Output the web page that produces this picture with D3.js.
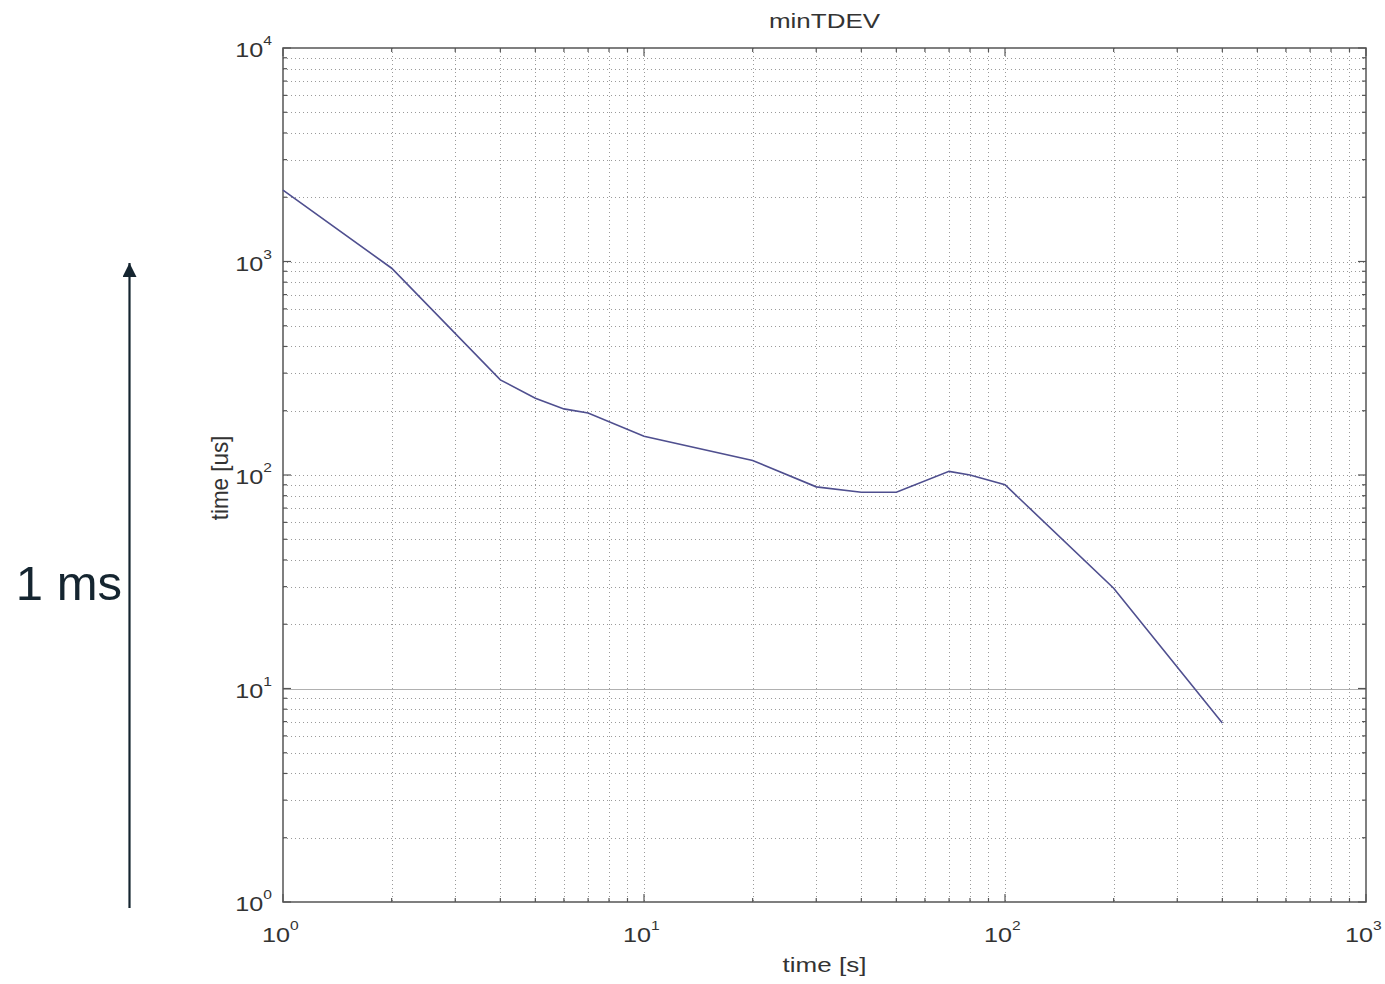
<!DOCTYPE html>
<html>
<head>
<meta charset="utf-8">
<script src="https://cdn.jsdelivr.net/npm/d3@7"></script>
<style>
  body { margin: 0; background: #fff; }
  svg { display: block; }
</style>
</head>
<body>
<div id="chart"></div>
<script>
// tau values [s] and minTDEV values [us]
const tau = [1, 2, 4, 5, 6, 7, 10, 20, 30, 40, 50, 70, 80, 100, 200, 400];
const tdev = [2160, 930, 279, 229, 204, 195, 152, 117, 88, 83, 83, 104, 100, 90, 29.5, 6.9];
const xTickExp = [0, 1, 2, 3];
const yTickExp = [0, 1, 2, 3, 4];

const width = 1385, height = 984;
const margin = { left: 283, right: 19, top: 48, bottom: 82 };

const svg = d3.select("#chart").append("svg")
  .attr("width", width)
  .attr("height", height)
  .style("font-family", "Liberation Sans, Arial, sans-serif");

const x = d3.scaleLog().domain([1, 1000]).range([margin.left, width - margin.right]);
const y = d3.scaleLog().domain([1, 10000]).range([height - margin.bottom, margin.top]);

const x0 = x.range()[0], x1 = x.range()[1];
const y0 = y.range()[0], y1 = y.range()[1];

// all ticks incl. minor ones (1..9 per decade)
const xTicks = x.ticks();
const yTicks = y.ticks();

// dotted grid
const grid = svg.append("g").attr("stroke", "#9a9a9a").attr("stroke-width", 1)
  .attr("stroke-dasharray", "1,3");
grid.selectAll("line.vx").data(xTicks.filter(d => d > 1 && d < 1000)).join("line")
  .attr("x1", d => Math.round(x(d)) + 0.5).attr("x2", d => Math.round(x(d)) + 0.5)
  .attr("y1", y1).attr("y2", y0);
grid.selectAll("line.hy").data(yTicks.filter(d => d > 1 && d < 10000)).join("line")
  .attr("y1", d => Math.round(y(d)) + 0.5).attr("y2", d => Math.round(y(d)) + 0.5)
  .attr("x1", x0).attr("x2", x1);

// the 10^1 gridline shows up solid in the source image
svg.append("line")
  .attr("x1", x0).attr("x2", x1)
  .attr("y1", Math.round(y(10)) + 0.5).attr("y2", Math.round(y(10)) + 0.5)
  .attr("stroke", "#b0b0b0").attr("stroke-width", 1);

// axes with inward ticks on all four sides
const tickLen = d => (Math.log10(d) % 1 === 0 ? 8 : 4);
const axisCol = "#555";
const ax = svg.append("g").attr("stroke", axisCol).attr("stroke-width", 1.2);
ax.selectAll("line.bt").data(xTicks).join("line")
  .attr("x1", d => x(d)).attr("x2", d => x(d)).attr("y1", y0).attr("y2", d => y0 - tickLen(d));
ax.selectAll("line.tt").data(xTicks).join("line")
  .attr("x1", d => x(d)).attr("x2", d => x(d)).attr("y1", y1).attr("y2", d => y1 + tickLen(d));
ax.selectAll("line.lt").data(yTicks).join("line")
  .attr("y1", d => y(d)).attr("y2", d => y(d)).attr("x1", x0).attr("x2", d => x0 + tickLen(d));
ax.selectAll("line.rt").data(yTicks).join("line")
  .attr("y1", d => y(d)).attr("y2", d => y(d)).attr("x1", x1).attr("x2", d => x1 - tickLen(d));
svg.append("rect")
  .attr("x", x0).attr("y", y1).attr("width", x1 - x0).attr("height", y0 - y1)
  .attr("fill", "none").attr("stroke", axisCol).attr("stroke-width", 1.5);

// the source picture is stretched sideways, so texts get a horizontal scale
const labCol = "#333";
const stretch = 1.2;
const power = (sel, d) => {
  sel.append("tspan").text("10");
  sel.append("tspan").attr("dy", -12).style("font-size", "13px").text(d);
};

svg.append("g").selectAll("text").data(xTickExp).join("text")
  .attr("transform", d => `translate(${x(Math.pow(10, d)) - 21}, ${y0 + 40}) scale(${stretch},1)`)
  .attr("text-anchor", "start")
  .attr("fill", labCol)
  .style("font-size", "21px")
  .each(function (d) { power(d3.select(this), d); });

svg.append("g").selectAll("text").data(yTickExp).join("text")
  .attr("transform", d => `translate(${x0 - 11}, ${y(Math.pow(10, d)) + 9}) scale(${stretch},1)`)
  .attr("text-anchor", "end")
  .attr("fill", labCol)
  .style("font-size", "21px")
  .each(function (d) { power(d3.select(this), d); });

// title and axis labels
svg.append("text")
  .attr("transform", `translate(${(x0 + x1) / 2}, 28) scale(1.3,1)`)
  .attr("text-anchor", "middle").attr("fill", labCol).style("font-size", "20px").text("minTDEV");
svg.append("text")
  .attr("transform", `translate(${(x0 + x1) / 2}, 972) scale(1.3,1)`)
  .attr("text-anchor", "middle").attr("fill", labCol).style("font-size", "20px").text("time [s]");
svg.append("text")
  .attr("transform", `translate(228, 478) rotate(-90) scale(1.12,1.15)`)
  .attr("text-anchor", "middle").attr("fill", labCol).style("font-size", "20px").text("time [us]");

// data line
const line = d3.line().x((d, i) => x(tau[i])).y(d => y(d));
svg.append("path")
  .attr("d", line(tdev))
  .attr("fill", "none")
  .attr("stroke", "#4f4f8f")
  .attr("stroke-width", 1.6);

// annotation arrow "1 ms"
const annCol = "#152530";
svg.append("defs").append("marker")
  .attr("id", "head").attr("viewBox", "0 0 10 10")
  .attr("refX", 10).attr("refY", 5)
  .attr("markerWidth", 14).attr("markerHeight", 14)
  .attr("markerUnits", "userSpaceOnUse")
  .attr("orient", "auto")
  .append("path").attr("d", "M0,0 L10,5 L0,10 Z").attr("fill", annCol);
svg.append("line")
  .attr("x1", 129.5).attr("x2", 129.5).attr("y1", 908).attr("y2", 263)
  .attr("stroke", annCol).attr("stroke-width", 2.2)
  .attr("marker-end", "url(#head)");
svg.append("text").attr("x", 122).attr("y", 600)
  .attr("text-anchor", "end").attr("fill", annCol)
  .style("font-size", "49px").style("font-family", "Liberation Sans, Arial, sans-serif")
  .text("1 ms");
</script>
</body>
</html>
